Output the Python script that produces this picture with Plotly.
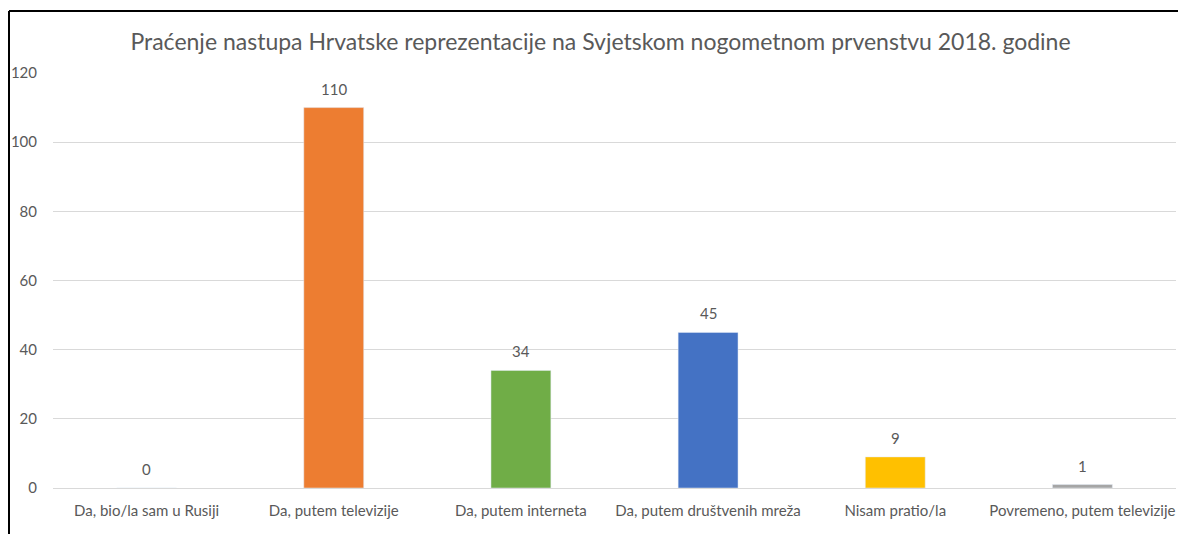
import plotly.graph_objects as go

categories = ["Da, bio/la sam u Rusiji", "Da, putem televizije", "Da, putem interneta",
              "Da, putem društvenih mreža", "Nisam pratio/la", "Povremeno, putem televizije"]
values = [0, 110, 34, 45, 9, 1]
colors = ["#5B9BD5", "#ED7D31", "#70AD47", "#4472C4", "#FFC000", "#A5A5A5"]
y_ticks = [0, 20, 40, 60, 80, 100, 120]

FONT = "Lato"
GREY = "#595959"

fig = go.Figure(go.Bar(
    x=categories, y=values, marker_color=colors,
    cliponaxis=False, width=0.32, hoverinfo="x+y",
))

annotations = [
    dict(x=c, y=v, xref="x", yref="y", text=str(v), showarrow=False,
         yanchor="bottom", yshift=8, font=dict(family=FONT, size=15, color=GREY))
    for c, v in zip(categories, values)
]

fig.update_layout(
    width=1178, height=534,
    margin=dict(l=53, r=2, t=73, b=46),
    paper_bgcolor="white", plot_bgcolor="white",
    title=dict(text="Praćenje nastupa Hrvatske reprezentacije na Svjetskom nogometnom prvenstvu 2018. godine",
               x=(133 + 1068) / 2 / 1178, xanchor="center", y=1 - 42 / 534, yanchor="middle",
               font=dict(family=FONT, size=23, color=GREY)),
    showlegend=False,
    annotations=annotations,
    xaxis=dict(showgrid=False, showline=False, ticks="", ticklabelstandoff=12,
               tickfont=dict(family=FONT, size=15, color=GREY)),
    yaxis=dict(range=[0, 120], tickvals=y_ticks, showgrid=True, gridcolor="#D9D9D9",
               gridwidth=1, zeroline=True, zerolinecolor="#D9D9D9", zerolinewidth=1,
               showline=False, ticks="", ticklabelstandoff=15,
               tickfont=dict(family=FONT, size=15, color=GREY)),
    shapes=[
        dict(type="line", xref="paper", yref="paper", x0=(9 - 53) / 1123, x1=1.01,
             y0=(488 - 11) / 415, y1=(488 - 11) / 415, line=dict(color="black", width=2)),
        dict(type="line", xref="paper", yref="paper", x0=(9 - 53) / 1123, x1=(9 - 53) / 1123,
             y0=(488 - 11) / 415, y1=-0.12, line=dict(color="black", width=2)),
    ],
)

fig.write_html("out.html", config={"displayModeBar": False},
               post_script="document.body.style.margin='0';document.body.style.padding='0';")
